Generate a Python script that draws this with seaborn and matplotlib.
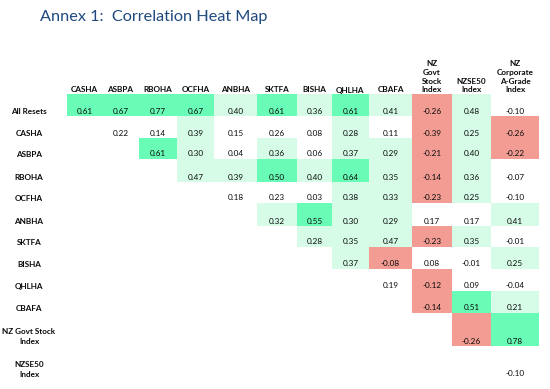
import numpy as np
import pandas as pd
import matplotlib
matplotlib.use("Agg")
import matplotlib.pyplot as plt
import matplotlib.transforms as mtransforms
from matplotlib.colors import ListedColormap
import seaborn as sns

row_labels = ["All Resets", "CASHA", "ASBPA", "RBOHA", "OCFHA", "ANBHA", "SKTFA",
              "BISHA", "QHLHA", "CBAFA", "NZ Govt Stock\nIndex", "NZSE50\nIndex"]
col_labels = ["CASHA", "ASBPA", "RBOHA", "OCFHA", "ANBHA", "SKTFA", "BISHA", "QHLHA",
              "CBAFA", "NZ\nGovt\nStock\nIndex", "NZSE50\nIndex", "NZ\nCorporate\nA-Grade\nIndex"]

# correlations, upper triangle: first row starts at column 0, row i at column i
corr_rows = [
    [0.61, 0.67, 0.77, 0.67, 0.40, 0.61, 0.36, 0.61, 0.41, -0.26, 0.48, -0.10],
    [0.22, 0.14, 0.39, 0.15, 0.26, 0.08, 0.28, 0.11, -0.39, 0.25, -0.26],
    [0.61, 0.30, 0.04, 0.36, 0.06, 0.37, 0.29, -0.21, 0.40, -0.22],
    [0.47, 0.39, 0.50, 0.40, 0.64, 0.35, -0.14, 0.36, -0.07],
    [0.18, 0.23, 0.03, 0.38, 0.33, -0.23, 0.25, -0.10],
    [0.32, 0.55, 0.30, 0.29, 0.17, 0.17, 0.41],
    [0.28, 0.35, 0.47, -0.23, 0.35, -0.01],
    [0.37, -0.08, 0.08, -0.01, 0.25],
    [0.19, -0.12, 0.09, -0.04],
    [-0.14, 0.51, 0.21],
    [-0.26, 0.78],
    [-0.10],
]

# shading band used in the table: -1 red, 0 none, 1 light green, 2 green
shade_rows = [
    [2, 2, 2, 2, 1, 2, 1, 2, 1, -1, 1, 0],
    [0, 0, 1, 0, 0, 0, 1, 0, -1, 1, -1],
    [2, 1, 0, 1, 0, 1, 1, -1, 1, -1],
    [1, 1, 2, 1, 2, 1, -1, 1, 0],
    [0, 0, 0, 1, 1, -1, 1, 0],
    [1, 2, 1, 1, 0, 0, 1],
    [1, 1, 1, -1, 1, 0],
    [1, -1, 0, 0, 1],
    [0, -1, 0, 0],
    [-1, 2, 1],
    [-1, 2],
    [0],
]

n_rows, n_cols = len(row_labels), len(col_labels)
corr = np.full((n_rows, n_cols), np.nan)
shade = np.full((n_rows, n_cols), np.nan)
for i in range(n_rows):
    start = n_cols - len(corr_rows[i])
    corr[i, start:] = corr_rows[i]
    shade[i, start:] = shade_rows[i]

df_shade = pd.DataFrame(shade, index=row_labels, columns=col_labels)

# cell edges in pixels (the table has uneven column widths / row heights)
col_px = np.array([67, 102, 139, 177, 214, 257, 297, 332, 369, 412, 452, 491, 539], float)
row_px = np.array([94, 116, 138, 159, 182, 203, 226, 247, 269, 291, 313, 346, 379], float)
xi = np.arange(n_cols + 1)
yi = np.arange(n_rows + 1)

sns.set_style("white")
plt.rcParams["font.family"] = ["Lato", "DejaVu Sans"]

W, H = 550, 389
fig = plt.figure(figsize=(W / 100, H / 100), dpi=100)
ax = fig.add_axes([col_px[0] / W, 1 - row_px[-1] / H,
                   (col_px[-1] - col_px[0]) / W, (row_px[-1] - row_px[0]) / H])

cmap = ListedColormap(["#F39C93", "#FFFFFF", "#D6FCE8", "#69FCB6"])
sns.heatmap(df_shade, mask=np.isnan(shade), cmap=cmap, vmin=-1.5, vmax=2.5,
            cbar=False, xticklabels=False, yticklabels=False, ax=ax)

ax.set_xscale("function", functions=(lambda v: np.interp(v, xi, col_px),
                                     lambda p: np.interp(p, col_px, xi)))
ax.set_yscale("function", functions=(lambda v: np.interp(v, yi, row_px),
                                     lambda p: np.interp(p, row_px, yi)))
ax.set_xlim(0, n_cols)
ax.set_ylim(n_rows, 0)
ax.set_xticks([])
ax.set_yticks([])
for s in ax.spines.values():
    s.set_visible(False)

txt = "#0a0a0a"
val_tr = mtransforms.offset_copy(ax.transData, fig=fig, x=0, y=2.5, units="dots")
for i in range(n_rows):
    for j in range(n_cols):
        if not np.isnan(corr[i, j]):
            ax.text(j + 0.5, i + 1, f"{corr[i, j]:.2f}", transform=val_tr,
                    ha="center", va="baseline", fontsize=5.9, color=txt)

head_tr = mtransforms.offset_copy(ax.transData, fig=fig, x=0, y=0.5, units="dots")
for j, lab in enumerate(col_labels):
    ax.text(j + 0.5, 0, lab, transform=head_tr, ha="center", va="bottom",
            fontsize=5.9, fontweight="bold", color=txt, linespacing=1.3)

row_tr = mtransforms.offset_copy(
    mtransforms.blended_transform_factory(fig.transFigure, ax.transData),
    fig=fig, x=0, y=1, units="dots")
for i, lab in enumerate(row_labels):
    ax.text(29 / W, i + 1, lab, transform=row_tr, ha="center", va="bottom",
            fontsize=5.9, fontweight="bold", color=txt, linespacing=1.45)

fig.text(40 / W, 1 - 21 / H, "Annex 1:  Correlation Heat Map", ha="left",
         va="baseline", fontsize=11.7, color="#1F497D")

fig.savefig("out.png", dpi=100)
